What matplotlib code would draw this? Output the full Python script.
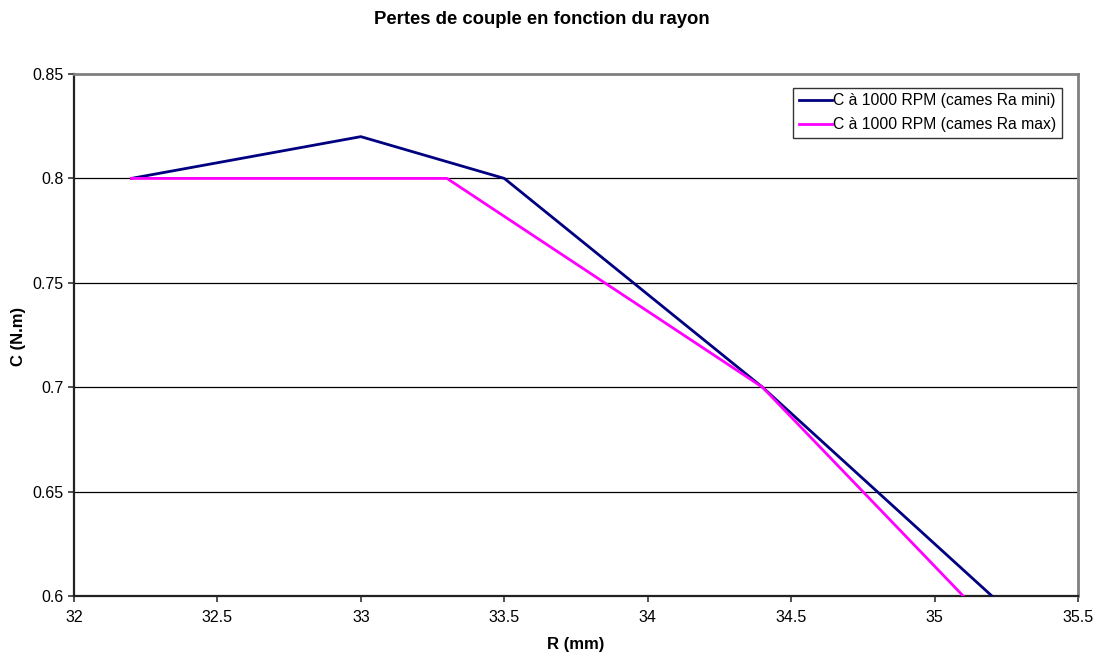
import matplotlib
matplotlib.use("Agg")
import matplotlib.pyplot as plt

plt.rcParams['font.family'] = ['Liberation Sans', 'DejaVu Sans']

# Torque loss versus cam radius, two cam roughness settings
r_mini = [32.2, 33.0, 33.5, 34.4, 35.2]
c_mini = [0.80, 0.82, 0.80, 0.70, 0.60]
r_max = [32.2, 33.3, 34.4, 35.1]
c_max = [0.80, 0.80, 0.70, 0.60]

label_mini = "C à 1000 RPM (cames Ra mini)"
label_max = "C à 1000 RPM (cames Ra max)"
title = "Pertes de couple en fonction du rayon"
xlabel = "R (mm)"
ylabel = "C (N.m)"
x_ticks = [32, 32.5, 33, 33.5, 34, 34.5, 35, 35.5]
y_ticks = [0.6, 0.65, 0.7, 0.75, 0.8, 0.85]

W, H = 1098, 654
fig = plt.figure(figsize=(W / 100, H / 100), dpi=100)
ax = fig.add_axes([74 / W, 1 - 596 / H, (1078 - 74) / W, (596 - 74) / H])

ax.set_xlim(32, 35.5)
ax.set_ylim(0.6, 0.85)

for y in y_ticks[1:-1]:
    ax.axhline(y, color='black', lw=0.9, zorder=1)

ax.plot(r_mini, c_mini, color='#000080', lw=2.0, label=label_mini, zorder=3)
ax.plot(r_max, c_max, color='#FF00FF', lw=2.0, label=label_max, zorder=3)

ax.set_xticks(x_ticks)
ax.set_xticklabels([f"{v:g}" for v in x_ticks])
ax.set_yticks(y_ticks)
ax.set_yticklabels([f"{v:g}" for v in y_ticks])
ax.tick_params(axis='both', labelsize=11.5, length=4, width=1.2, color='#333333',
               direction='out')
ax.tick_params(axis='x', pad=6)

for side in ('left', 'bottom'):
    ax.spines[side].set_color('#222222')
    ax.spines[side].set_linewidth(1.6)
for side in ('top', 'right'):
    ax.spines[side].set_color('#808080')
    ax.spines[side].set_linewidth(2.0)

fig.text(542 / W, 1 - 20 / H, title, ha='center', va='center', fontsize=13.3,
         fontweight='bold')
fig.text(576 / W, 1 - 644 / H, xlabel, ha='center', va='center', fontsize=12,
         fontweight='bold')
fig.text(18 / W, 1 - 336 / H, ylabel, ha='center', va='center', fontsize=12,
         fontweight='bold', rotation=90)

leg = ax.legend(loc='upper right', bbox_to_anchor=(1062 / W, 1 - 88 / H),
                bbox_transform=fig.transFigure, fontsize=11.3, frameon=True,
                fancybox=False, edgecolor='black', borderpad=0.35,
                handlelength=2.1, handletextpad=0.1, labelspacing=0.55,
                borderaxespad=0)
leg.get_frame().set_linewidth(1.0)

fig.savefig("out.png", dpi=100)
